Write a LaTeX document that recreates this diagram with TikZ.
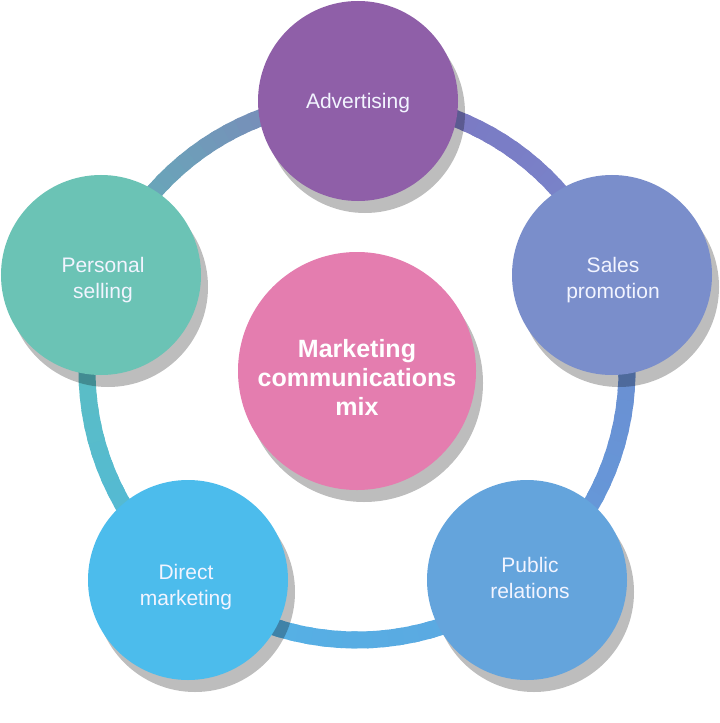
\documentclass[tikz,border=0pt]{standalone}
\usepackage{fontspec}
\setmainfont{Liberation Sans}
\definecolor{cAdv}{HTML}{8F5FA8}
\definecolor{cSal}{HTML}{7A8ECB}
\definecolor{cPR}{HTML}{64A4DC}
\definecolor{cDM}{HTML}{4CBCEC}
\definecolor{cPS}{HTML}{6BC3B5}
\definecolor{cHub}{HTML}{E47DAF}
\definecolor{txtc}{HTML}{F2F4FF}
\definecolor{rA1}{HTML}{7C74C0}
\definecolor{rA2}{HTML}{7888CC}
\definecolor{rB1}{HTML}{6E8BCF}
\definecolor{rB2}{HTML}{629CDC}
\definecolor{rC1}{HTML}{5EA6E0}
\definecolor{rC2}{HTML}{52B4E6}
\definecolor{rD1}{HTML}{50B8DC}
\definecolor{rD2}{HTML}{5FBFBB}
\definecolor{rE1}{HTML}{60B4BA}
\definecolor{rE2}{HTML}{8080B8}
\newcommand\ringseg[4]{%
  \foreach \k in {0,...,23}{%
    \pgfmathsetmacro\aa{#1+(#2-#1)*\k/24}%
    \pgfmathsetmacro\bb{#1+(#2-#1)*(\k+1.4)/24}%
    \pgfmathtruncatemacro\pp{100*\k/23}%
    \colorlet{segc}{#4!\pp!#3}%
    \draw[ringline, draw=segc] ([shift={(357,370)}]\aa:270) arc[start angle=\aa, end angle=\bb, radius=270];
  }}
\begin{document}
\begin{tikzpicture}[x=1bp,y=-1bp,
  bubble/.style={circle, minimum size=200bp, inner sep=0pt},
  hub/.style={circle, minimum size=238bp, inner sep=0pt},
  btext/.style={text=txtc, align=center, inner sep=0pt, font=\fontsize{21bp}{26bp}\selectfont},
  htext/.style={text=white, align=center, inner sep=0pt, font=\bfseries\fontsize{25bp}{29bp}\selectfont},
  shade/.style={fill=black, opacity=0.26},
  ringline/.style={line width=17bp}]
\useasboundingbox[fill=white] (0,0) rectangle (720,723);
% positions
\coordinate (pAdv) at (358,101);
\coordinate (pSal) at (612,275);
\coordinate (pPR)  at (527,580);
\coordinate (pDM)  at (188,580);
\coordinate (pPS)  at (101,275);
\coordinate (pHub) at (357,371);
% ring
\ringseg{-90}{-20.4}{rA1}{rA2}
\ringseg{-20.4}{51}{rB1}{rB2}
\ringseg{51}{128.8}{rC1}{rC2}
\ringseg{128.8}{200.4}{rD1}{rD2}
\ringseg{200.4}{270}{rE1}{rE2}
% shadows
\foreach \p in {pAdv,pSal,pPR,pDM,pPS}{
  \fill[shade] ([shift={(7,12)}]\p) circle[radius=100];
}
\fill[shade] ([shift={(7,12)}]pHub) circle[radius=119];
% circles
\node[bubble, fill=cAdv] (adv) at (pAdv) {};
\node[bubble, fill=cSal] (sal) at (pSal) {};
\node[bubble, fill=cPR]  (pr)  at (pPR)  {};
\node[bubble, fill=cDM]  (dm)  at (pDM)  {};
\node[bubble, fill=cPS]  (ps)  at (pPS)  {};
\node[hub, fill=cHub]    (hub) at (pHub) {};
% texts
\node[btext] (advT) at (358,103) {Advertising};
\node[btext] (salT) at (613,280) {Sales\\promotion};
\node[btext] (prT)  at (530,578) {Public\\relations};
\node[btext] (dmT)  at (186,587) {Direct\\marketing};
\node[btext] (psT)  at (103,280) {Personal\\selling};
\node[htext] (hubT) at (357,377) {Marketing\\communications\\mix};
\end{tikzpicture}
\end{document}
